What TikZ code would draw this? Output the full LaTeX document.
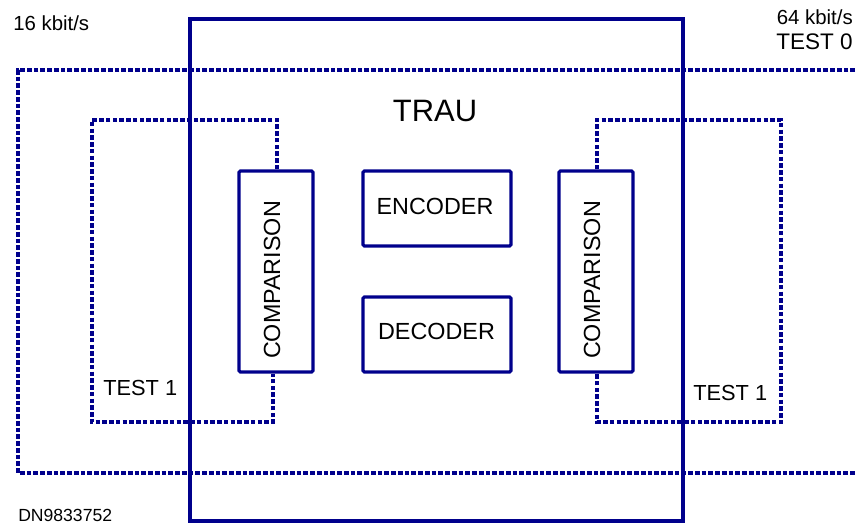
\documentclass[tikz,border=0pt]{standalone}
\usepackage{fontspec}
\setmainfont{Liberation Sans}
\definecolor{trau}{RGB}{0,0,140}

\begin{document}
\begin{tikzpicture}[x=0.025cm,y=-0.025cm,
  box/.style={draw=trau,line width=2.2pt,rounded corners=1pt,inner sep=0pt},
  loop/.style={trau,line width=2.4pt,dash pattern=on 3.3pt off 1.5pt},
  lbl/.style={inner sep=0pt,font=\fontsize{15.5}{18}\selectfont},
  blbl/.style={inner sep=0pt,font=\fontsize{16.6}{19}\selectfont}]
\useasboundingbox (0,0) rectangle (861,524);
% TRAU frame
\draw[trau,line width=2.2pt] (190,19) rectangle (683,521);
\node[inner sep=0pt,anchor=base,font=\fontsize{22}{26}\selectfont] (trau) at (435,122) {TRAU};
% blocks
\node[box,minimum width=1.85cm,minimum height=5.025cm] (cmpL) at (276,271.5) {};
\node[box,minimum width=1.85cm,minimum height=5.025cm] (cmpR) at (596,271.5) {};
\node[box,minimum width=3.7cm,minimum height=1.875cm] (enc) at (437,208.5) {};
\node[box,minimum width=3.7cm,minimum height=1.875cm] (dec) at (437,334.5) {};
\node[blbl,rotate=90] (cmpLtxt) at (272,280) {COMPARISON};
\node[blbl,rotate=90] (cmpRtxt) at (592,280) {COMPARISON};
\node[blbl] (enctxt) at (435,206) {ENCODER};
\node[blbl] (dectxt) at (436.5,331.5) {DECODER};
% test loops
\coordinate (l1a) at (92,120);
\coordinate (l1b) at (92,422);
\coordinate (r1a) at (781,120);
\coordinate (r1b) at (781,422);
\draw[loop] ([xshift=0.025cm]cmpL.north) |- (l1a) -- (l1b) -| ([xshift=-0.075cm]cmpL.south);
\draw[loop] ([xshift=0.025cm]cmpR.north) |- (r1a) -- (r1b) -| ([xshift=0.025cm]cmpR.south);
\coordinate (o1) at (855,70);
\coordinate (o2) at (18,70);
\coordinate (o3) at (18,473);
\coordinate (o4) at (855,473);
\draw[loop] (o1) -- (o2) -- (o3) -- (o4);
% labels
\node[lbl,anchor=base west,font=\fontsize{14.5}{17}\selectfont] (in16) at (13,31) {16 kbit/s};
\node[lbl,anchor=base east,font=\fontsize{14.5}{17}\selectfont] (in64) at (853,25) {64 kbit/s};
\node[lbl,anchor=base east,font=\fontsize{16}{19}\selectfont] (t0) at (853,50) {TEST 0};
\node[lbl,anchor=base west] (t1L) at (103,395) {TEST 1};
\node[lbl,anchor=base west] (t1R) at (693,400) {TEST 1};
\node[lbl,anchor=base west,font=\fontsize{12.5}{15}\selectfont] (dn) at (18,521) {DN9833752};
\end{tikzpicture}
\end{document}
